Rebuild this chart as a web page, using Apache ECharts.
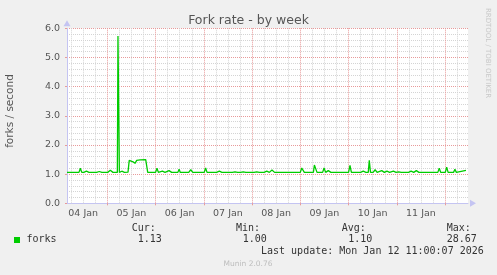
<!DOCTYPE html>
<html>
<head>
<meta charset="utf-8">
<script src="https://cdn.jsdelivr.net/npm/echarts@6/dist/echarts.min.js"></script>
<style>
html,body{margin:0;padding:0;background:#f0f0f0;}
#c{width:497px;height:275px;}
</style>
</head>
<body>
<div id="c"></div>
<script>
// hours since 04 Jan 00:00
var hours = [3.95,
  9.9,10.6,11.3, 12.3,13.6,14.9, 18.7,20.0,21.3, 24.2,25.5,26.8,
  29.0,29.3,29.7,30.0, 31.2,32.5,
  34.3,34.9,35.8,36.8,37.8,38.6,39.1,40.3,43.1,43.6,44.1,
  48.0,48.7,49.4, 50.1,51.4,52.7, 53.4,54.7,56.0, 59.1,59.7,60.3, 64.5,65.5,66.5,
  72.2,72.9,73.6, 78.4,79.7,81.0, 86.2,87.5,88.8, 90.3,91.6,92.9, 97.0,98.3,99.6,
  102.0,103.3,104.6,105.9,107.2,
  120.0,120.7,122.0, 126.5,127.0,127.7,128.3,
  131.1,131.8,132.6,133.9,135.2,
  144.0,144.7,145.4, 150.0,151.3,152.6, 153.8,154.3,154.9, 156.2,157.2,158.2,
  159.1,160.5,161.8,163.1,164.4, 165.0,166.3,167.6, 168.9,170.2,
  173.8,175.1,176.4,177.7,179.0,
  188.4,189.1,189.8, 192.1,192.8,193.5, 196.2,196.9,197.6, 202.4];
var forks = [1.06,
  1.06,1.20,1.06, 1.06,1.10,1.06, 1.06,1.09,1.06, 1.06,1.13,1.06,
  1.06,5.74,5.74,1.06, 1.10,1.06,
  1.07,1.47,1.45,1.42,1.37,1.47,1.50,1.49,1.50,1.50,1.06,
  1.06,1.20,1.06, 1.06,1.10,1.06, 1.06,1.12,1.06, 1.06,1.17,1.06, 1.06,1.15,1.06,
  1.06,1.21,1.06, 1.06,1.10,1.06, 1.06,1.08,1.06, 1.06,1.08,1.06, 1.06,1.08,1.06,
  1.06,1.10,1.06,1.14,1.06,
  1.06,1.21,1.06, 1.06,1.31,1.31,1.06,
  1.06,1.21,1.06,1.12,1.06,
  1.06,1.30,1.06, 1.06,1.10,1.06, 1.06,1.47,1.06, 1.06,1.15,1.06,
  1.06,1.12,1.06,1.10,1.06, 1.06,1.10,1.06, 1.08,1.06,
  1.06,1.10,1.06,1.12,1.06,
  1.06,1.20,1.06, 1.06,1.24,1.06, 1.06,1.17,1.06, 1.13];
var dayLabels = ['04 Jan','05 Jan','06 Jan','07 Jan','08 Jan','09 Jan','10 Jan','11 Jan'];
var yTicks = [0,1,2,3,4,5,6];
var statHeaders = ['Cur:','Min:','Avg:','Max:'];
var statValues = ['1.13','1.00','1.10','28.67'];
var seriesName = 'forks';
var titleText = 'Fork rate - by week';
var yName = 'forks / second';
var lastUpdate = 'Last update: Mon Jan 12 11:00:07 2026';
var footer = 'Munin 2.0.76';
var watermark = 'RRDTOOL / TOBI OETIKER';

var X_MIN = 3.95, X_MAX = 203.4;
var midnights = [], noons = [], sixHours = [];
for (var d = 0; d <= 9; d++) {
  var m = d * 24;
  if (m > X_MIN && m < X_MAX) midnights.push(m);
  if (d < dayLabels.length) noons.push(m + 12);
  [6, 12, 18].forEach(function (o) { var v = m + o; if (v > X_MIN && v < X_MAX) sixHours.push(v); });
}
var data = hours.map(function (h, i) { return [h, forks[i]]; });

var MAJ = '#e89a9a', MIN = '#d4d4d4', AX = '#c4c4f2';
var chart = echarts.init(document.getElementById('c'), null, {renderer: 'canvas'});
var mono = '"DejaVu Sans Mono", monospace';
var graphics = [
  {type: 'rect', shape: {x: 14, y: 237, width: 6, height: 6}, style: {fill: '#00cc00'}},
  {type: 'text', x: 26.5, y: 239.5, style: {text: seriesName, font: '10px ' + mono, fill: '#333', verticalAlign: 'middle'}},
  {type: 'text', x: 261, y: 251.7, style: {text: lastUpdate, font: '10px ' + mono, fill: '#333', verticalAlign: 'middle'}},
  {type: 'text', x: 248, y: 264.5, style: {text: footer, font: '7.5px "DejaVu Sans"', fill: '#bdbdbd', align: 'center', verticalAlign: 'middle'}},
  {type: 'text', x: 487.5, y: 53, rotation: -Math.PI / 2, style: {text: watermark, font: '7px "DejaVu Sans"', fill: '#c8c8c8', align: 'center', verticalAlign: 'middle'}},
  {type: 'text', x: 10, y: 111, rotation: Math.PI / 2, style: {text: yName, font: '10.5px "DejaVu Sans"', fill: '#555', align: 'center', verticalAlign: 'middle'}}
];
var hdrX = [131.7, 236, 341.7, 446.7], valX = [137.7, 242.7, 348.3, 446.7];
statHeaders.forEach(function (h, i) {
  graphics.push({type: 'text', x: hdrX[i], y: 228.3, style: {text: h, font: '10px ' + mono, fill: '#333', verticalAlign: 'middle'}});
  graphics.push({type: 'text', x: valX[i], y: 239.5, style: {text: statValues[i], font: '10px ' + mono, fill: '#333', verticalAlign: 'middle'}});
});

function vLines(vals, color) {
  return {
    silent: true, symbol: ['none', 'none'], label: {show: false},
    lineStyle: {color: color, type: [1, 1], width: 1},
    emphasis: {disabled: true},
    data: vals.map(function (v) { return {xAxis: v}; })
  };
}

chart.setOption({
  backgroundColor: '#f0f0f0',
  animation: false,
  title: {text: titleText, left: 'center', top: 9,
    textStyle: {fontFamily: 'DejaVu Sans', fontSize: 12.5, fontWeight: 'normal', color: '#555'}},
  grid: {left: 67, right: 29, top: 28.3, bottom: 71.7, show: true, backgroundColor: '#fff', borderWidth: 0},
  xAxis: {
    type: 'value', min: X_MIN, max: X_MAX,
    axisLine: {show: true, lineStyle: {color: AX, width: 1}, symbol: ['none', 'triangle'], symbolSize: [7, 6], symbolOffset: [0, 5]},
    axisTick: {show: true, length: 2, customValues: midnights, lineStyle: {color: MAJ}},
    axisLabel: {customValues: noons, margin: 5, fontFamily: 'DejaVu Sans', fontSize: 9.5, color: '#555',
      formatter: function (v) { var i = noons.indexOf(v); return i >= 0 ? dayLabels[i] : ''; }},
    splitLine: {show: false}
  },
  yAxis: {
    type: 'value', min: yTicks[0], max: yTicks[yTicks.length - 1], interval: 1,
    axisLine: {show: true, lineStyle: {color: AX, width: 1}, symbol: ['none', 'triangle'], symbolSize: [7, 6], symbolOffset: [0, 5]},
    axisTick: {show: true, length: 2, lineStyle: {color: MAJ}},
    axisLabel: {margin: 7, fontFamily: 'DejaVu Sans', fontSize: 9.5, color: '#555', formatter: function (v) { return v.toFixed(1); }},
    splitLine: {show: true, lineStyle: {color: MAJ, type: [1, 1], width: 1}},
    minorTick: {show: false, splitNumber: 5},
    minorSplitLine: {show: true, lineStyle: {color: MIN, type: [1, 1], width: 1}}
  },
  series: [{
    type: 'line', data: [], silent: true, z: 1,
    markLine: vLines(sixHours, MIN)
  }, {
    type: 'line', data: [], silent: true, z: 2,
    markLine: vLines(midnights, MAJ)
  }, {
    name: seriesName, type: 'line', data: data, showSymbol: false, symbol: 'none',
    lineStyle: {color: '#00cc00', width: 1.3}, z: 5
  }],
  graphic: graphics
});
</script>
</body>
</html>
